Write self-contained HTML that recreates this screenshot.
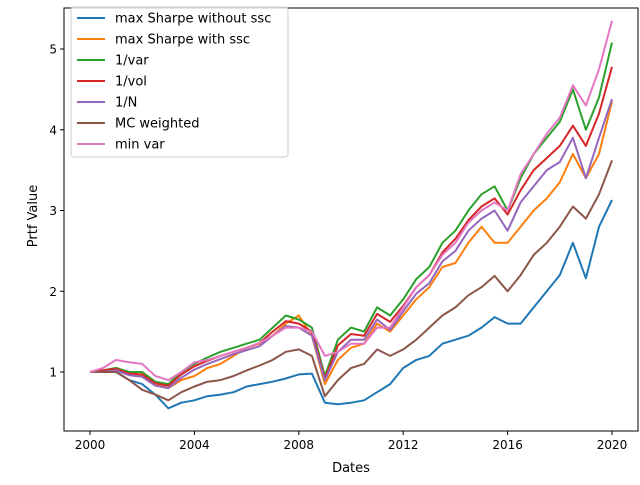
<!DOCTYPE html>
<html><head><meta charset="utf-8"><style>
body{margin:0;background:#fff;font-family:"Liberation Sans","DejaVu Sans",sans-serif}
svg text{font-family:"DejaVu Sans","Liberation Sans",sans-serif;fill:#000}
</style></head><body>
<svg id="c" width="640" height="480" xmlns="http://www.w3.org/2000/svg">
<rect x="64" y="8" width="574" height="423" fill="#fff" stroke="#000" stroke-width="1"/>
<g id="series"></g><g id="axes"></g><g id="legend"></g>
</svg>
<script>
const years=[2000,2000.5,2001,2001.5,2002,2002.5,2003,2003.5,2004,2004.5,2005,2005.5,2006,2006.5,2007,2007.5,2008,2008.5,2009,2009.5,2010,2010.5,2011,2011.5,2012,2012.5,2013,2013.5,2014,2014.5,2015,2015.5,2016,2016.5,2017,2017.5,2018,2018.5,2019,2019.5,2020];
const seriesNames=["max Sharpe without ssc","max Sharpe with ssc","1/var","1/vol","1/N","MC weighted","min var"];
const seriesColors=["#1f77b4","#ff7f0e","#2ca02c","#d62728","#9467bd","#8c564b","#e377c2"];
const maxSharpeNoSsc=[1.0,1.0,1.0,0.9,0.85,0.72,0.55,0.62,0.65,0.7,0.72,0.75,0.82,0.85,0.88,0.92,0.97,0.98,0.62,0.6,0.62,0.65,0.75,0.85,1.05,1.15,1.2,1.35,1.4,1.45,1.55,1.68,1.6,1.6,1.8,2.0,2.2,2.6,2.16,2.8,3.13];
const maxSharpeSsc=[1.0,1.02,1.05,1.0,0.95,0.85,0.8,0.9,0.95,1.05,1.1,1.2,1.3,1.35,1.45,1.6,1.7,1.45,0.85,1.15,1.3,1.35,1.6,1.5,1.7,1.9,2.05,2.3,2.35,2.6,2.8,2.6,2.6,2.8,3.0,3.15,3.35,3.7,3.4,3.7,4.35];
const invVar=[1.0,1.02,1.05,1.0,1.0,0.88,0.85,1.0,1.1,1.18,1.25,1.3,1.35,1.4,1.55,1.7,1.65,1.55,0.95,1.4,1.55,1.5,1.8,1.7,1.9,2.15,2.3,2.6,2.75,3.0,3.2,3.3,3.0,3.4,3.7,3.9,4.1,4.5,4.0,4.4,5.08];
const invVol=[1.0,1.02,1.04,0.98,0.97,0.86,0.83,0.97,1.07,1.14,1.2,1.25,1.3,1.36,1.5,1.63,1.6,1.5,0.92,1.33,1.47,1.45,1.72,1.62,1.82,2.05,2.2,2.48,2.65,2.88,3.05,3.15,2.95,3.25,3.5,3.65,3.8,4.05,3.8,4.2,4.78];
const equalW=[1.0,1.0,1.02,0.96,0.94,0.83,0.8,0.93,1.03,1.1,1.16,1.22,1.27,1.32,1.45,1.57,1.55,1.45,0.9,1.25,1.4,1.4,1.65,1.52,1.75,1.97,2.1,2.37,2.5,2.75,2.9,3.0,2.75,3.1,3.3,3.5,3.6,3.9,3.4,3.9,4.38];
const mcWeighted=[1.0,1.0,1.0,0.9,0.78,0.72,0.65,0.75,0.82,0.88,0.9,0.95,1.02,1.08,1.15,1.25,1.28,1.2,0.7,0.9,1.05,1.1,1.28,1.2,1.28,1.4,1.55,1.7,1.8,1.95,2.05,2.19,2.0,2.2,2.45,2.6,2.8,3.05,2.9,3.2,3.62];
const minVar=[1.0,1.05,1.15,1.12,1.1,0.95,0.9,1.0,1.12,1.15,1.2,1.25,1.3,1.36,1.45,1.55,1.55,1.5,1.2,1.25,1.35,1.35,1.55,1.55,1.8,2.05,2.2,2.45,2.6,2.85,3.0,3.1,3.0,3.45,3.7,3.95,4.15,4.55,4.3,4.75,5.35];
const allSeries=[maxSharpeNoSsc,maxSharpeSsc,invVar,invVol,equalW,mcWeighted,minVar];
const xTicks=[2000,2004,2008,2012,2016,2020];
const yTicks=[1,2,3,4,5];
const NS="http://www.w3.org/2000/svg";
const xs=y=>90+(y-2000)*(612-90)/20;
const ys=v=>372-(v-1)*80.75;
function mk(t,a,p){const e=document.createElementNS(NS,t);for(const k in a)e.setAttribute(k,a[k]);p.appendChild(e);return e;}
const sg=document.getElementById('series');
allSeries.forEach((s,i)=>{
 const p=mk('polyline',{points:s.map((v,j)=>xs(years[j]).toFixed(1)+','+ys(v).toFixed(1)).join(' '),fill:'none',stroke:seriesColors[i],'stroke-width':2,'stroke-linejoin':'round'},sg);
 
 
});
const ag=document.getElementById('axes');
xTicks.forEach(t=>{
 const l=mk('line',{x1:xs(t),x2:xs(t),y1:431,y2:435,stroke:'#000'},ag);
 
 
 const tx=mk('text',{x:xs(t),y:449,'font-size':12,'text-anchor':'middle'},ag);tx.textContent=t;
 
 
});
yTicks.forEach(t=>{
 const l=mk('line',{x1:60,x2:64,y1:ys(t),y2:ys(t),stroke:'#000'},ag);
 
 
 const tx=mk('text',{x:57,y:ys(t)+4.5,'font-size':12,'text-anchor':'end'},ag);tx.textContent=t;
 
 
});
const xt=mk('text',{x:351,y:472,'font-size':13,'text-anchor':'middle'},ag);xt.textContent='Dates';


const yt=mk('text',{x:0,y:0,'font-size':13,'text-anchor':'middle',transform:'translate(37,216) rotate(-90)'},ag);yt.textContent='Prtf Value';


const lg=document.getElementById('legend');
const box=mk('rect',{x:71,y:7,width:217,height:150,rx:3,fill:'#fff','fill-opacity':0.8,stroke:'#ccc'},lg);


seriesNames.forEach((n,i)=>{
 const y=18+i*21;
 const l=mk('line',{x1:77,x2:105,y1:y,y2:y,stroke:seriesColors[i],'stroke-width':2},lg);
 
 
 const tx=mk('text',{x:115,y:y+4.5,'font-size':13},lg);tx.textContent=n;
 
 
});
</script>
</body></html>
